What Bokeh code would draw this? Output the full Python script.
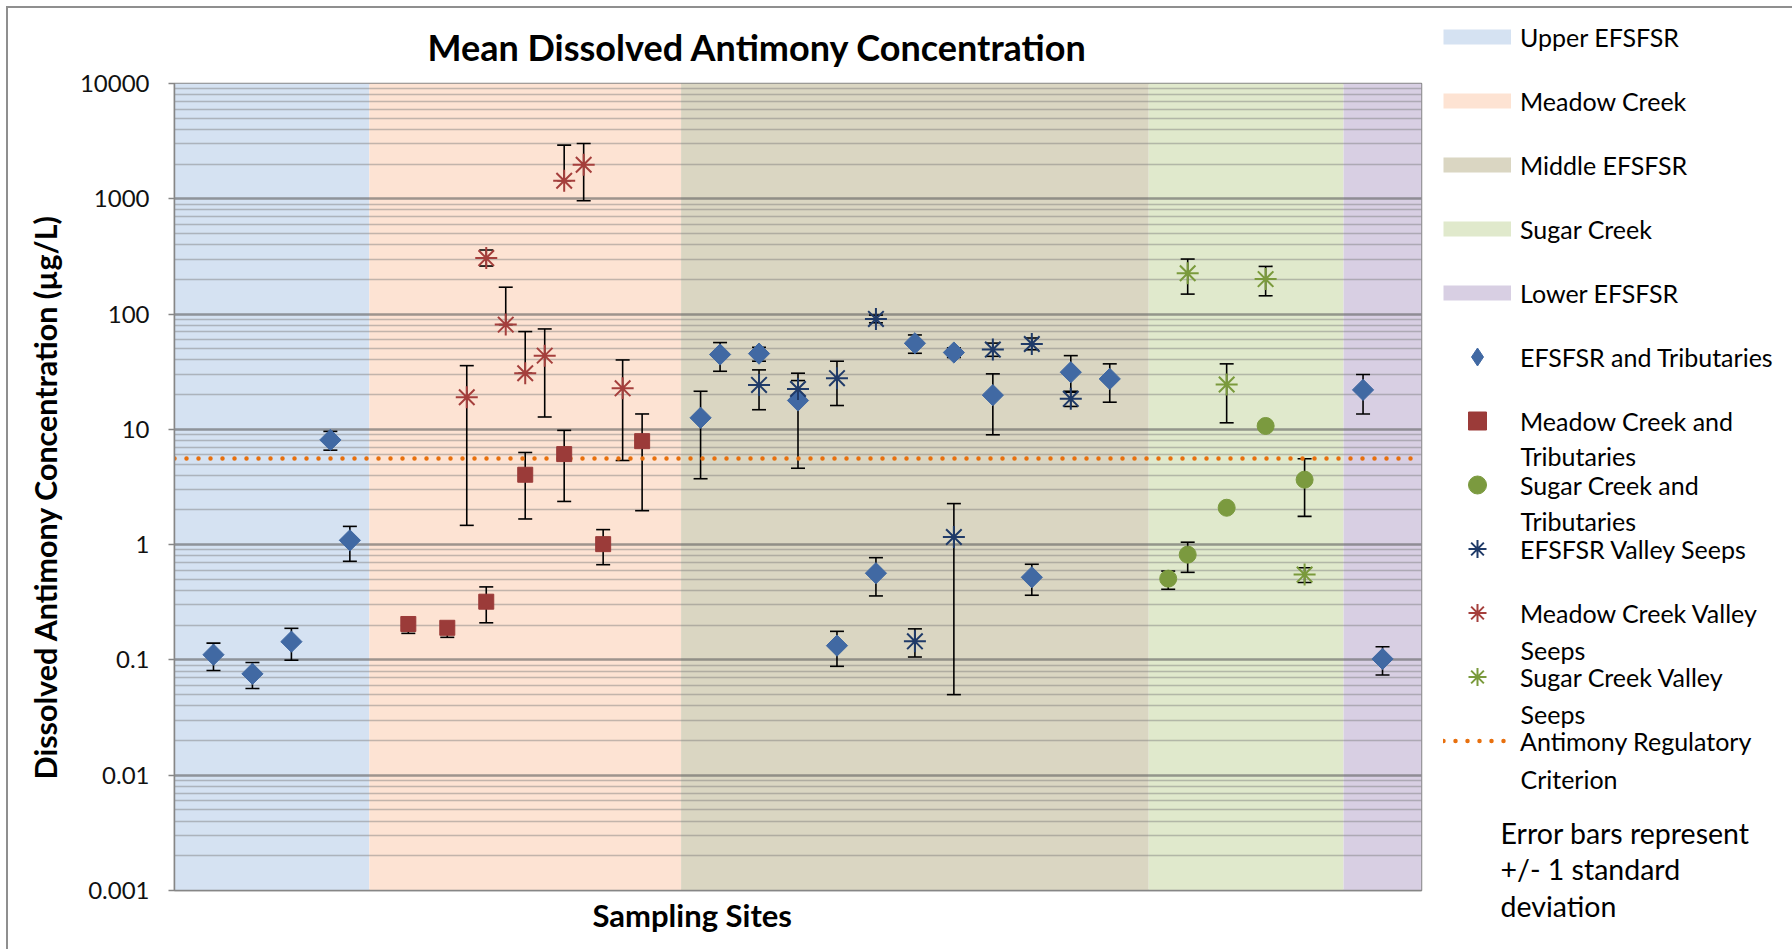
import numpy as np
from bokeh.plotting import figure
from bokeh.layouts import row
from bokeh.models import (ColumnDataSource, Whisker, TeeHead, Legend, LegendItem,
                          Label, FixedTicker, Range1d, CustomJSTickFormatter, Title)
from bokeh.embed import file_html
from bokeh.resources import INLINE

TITLE = "Mean Dissolved Antimony Concentration"
Y_LABEL = "Dissolved Antimony Concentration (µg/L)"
X_LABEL = "Sampling Sites"
N_SITES = 64

region_names = ["Upper EFSFSR", "Meadow Creek", "Middle EFSFSR", "Sugar Creek", "Lower EFSFSR"]
region_first = [0, 10, 26, 50, 60]
region_last = [10, 26, 50, 60, 64]
region_colors = ["#d5e2f2", "#fde3d3", "#dad6c2", "#e0e9cc", "#d8cfe3"]

y_ticks = [0.001, 0.01, 0.1, 1, 10, 100, 1000, 10000]

# EFSFSR and Tributaries
efs_sites = [2, 4, 6, 8, 9, 27, 28, 30, 32, 34, 36, 38, 40, 42, 44, 46, 48, 61, 62]
efs_mean = [0.111, 0.0757, 0.144, 8.1, 1.09, 12.6, 44.6, 45.4, 17.8, 0.133, 0.565, 55.8, 46.4, 19.8, 0.521, 31.3, 27.4, 22.0, 0.102]
efs_upper = [0.14, 0.095, 0.188, 9.6, 1.44, 21.4, 56.6, 51.5, 30.7, 0.177, 0.771, 65.9, 51.0, 30.3, 0.676, 43.6, 37.0, 29.9, 0.130]
efs_lower = [0.081, 0.0565, 0.0995, 6.6, 0.717, 3.73, 31.9, 39.0, 4.6, 0.088, 0.359, 45.7, 42.0, 8.97, 0.364, 21.0, 17.2, 13.6, 0.074]

# Meadow Creek and Tributaries
mc_sites = [12, 14, 16, 18, 20, 22, 24]
mc_mean = [0.205, 0.19, 0.32, 4.04, 6.1, 1.01, 7.9]
mc_upper = [0.215, 0.197, 0.43, 6.3, 9.8, 1.35, 13.6]
mc_lower = [0.17, 0.157, 0.21, 1.67, 2.37, 0.67, 1.97]

# Sugar Creek and Tributaries
sc_sites = [51, 52, 54, 56, 58]
sc_mean = [0.507, 0.819, 2.09, 10.7, 3.66]
sc_upper = [0.59, 1.05, None, None, 5.56]
sc_lower = [0.41, 0.575, None, None, 1.76]

# EFSFSR Valley Seeps
efs_seep_sites = [30, 32, 34, 36, 38, 40, 42, 44, 46]
efs_seep_mean = [24.3, 22.4, 27.8, 90.8, 0.145, 1.165, 49.2, 55.0, 18.4]
efs_seep_upper = [32.8, 26.5, 39.0, 98.0, 0.186, 2.27, 56.0, 62.0, 21.4]
efs_seep_lower = [14.8, 19.5, 16.1, 84.0, 0.106, 0.050, 43.0, 49.0, 15.8]

# Meadow Creek Valley Seeps
mc_seep_sites = [15, 16, 17, 18, 19, 20, 21, 23]
mc_seep_mean = [19.0, 306, 81, 30.7, 43.6, 1434, 1973, 22.7]
mc_seep_upper = [35.7, 360, 171, 70.5, 74.3, 2920, 3020, 40.0]
mc_seep_lower = [1.47, 261, 81, 30.7, 12.8, 1434, 962, 5.37]

# Sugar Creek Valley Seeps
sc_seep_sites = [52, 54, 56, 58]
sc_seep_mean = [226, 24.5, 201, 0.55]
sc_seep_upper = [300, 37.0, 259, 0.63]
sc_seep_lower = [149, 11.4, 144, 0.47]

criterion = 5.6

series_names = ["EFSFSR and Tributaries", "Meadow Creek and\nTributaries",
                "Sugar Creek and\nTributaries", "EFSFSR Valley Seeps",
                "Meadow Creek Valley\nSeeps", "Sugar Creek Valley\nSeeps",
                "Antimony Regulatory\nCriterion"]
note_lines = ["Error bars represent", "+/- 1 standard", "deviation"]

FONT = "Lato"
C_EFS, C_MC, C_SC = "#4169a3", "#9b3b39", "#7b9a3f"
C_ES, C_MS, C_SS = "#1f3a68", "#a53f3c", "#7a9a3c"
C_CRIT = "#e8700e"

W1, W2, H = 1423, 361, 941

p = figure(width=W1, height=H, y_axis_type="log",
           x_range=Range1d(0, N_SITES), y_range=Range1d(y_ticks[0], y_ticks[-1]),
           output_backend="svg", toolbar_location=None,
           min_border_left=166, min_border_right=10, min_border_top=75, min_border_bottom=59)
p.frame_align = False
p.outline_line_color = "#868686"
p.outline_line_width = 1.5

# region bands
band_src = ColumnDataSource(dict(left=region_first, right=region_last,
                                 bottom=[y_ticks[0]] * 5, top=[y_ticks[-1]] * 5,
                                 color=region_colors, name=region_names))
p.quad(left="left", right="right", bottom="bottom", top="top", fill_color="color",
       line_color=None, source=band_src, level="image")

# grid
minor = [m * 10.0 ** e for e in range(-3, 4) for m in range(2, 10)]
ticker = FixedTicker(ticks=y_ticks, minor_ticks=minor)
p.yaxis.ticker = ticker
p.ygrid.ticker = ticker
p.xgrid.grid_line_color = None
p.ygrid.grid_line_color = "#5f5f5f"
p.ygrid.grid_line_alpha = 0.6
p.ygrid.grid_line_width = 2.5
p.ygrid.minor_grid_line_color = "#7a7a7a"
p.ygrid.minor_grid_line_alpha = 0.45
p.ygrid.minor_grid_line_width = 1.5

p.yaxis.formatter = CustomJSTickFormatter(code="return String(tick);")
p.yaxis.major_label_text_font = FONT
p.yaxis.major_label_text_font_size = "24px"
p.yaxis.major_label_text_color = "#111111"
p.yaxis.major_tick_out = 6
p.yaxis.major_tick_in = 0
p.yaxis.minor_tick_out = 0
p.yaxis.minor_tick_in = 0
p.yaxis.major_label_standoff = 19
p.yaxis.axis_line_color = "#868686"
p.yaxis.axis_line_width = 1.5
p.yaxis.major_tick_line_color = "#868686"
p.yaxis.major_tick_line_width = 1.5

p.xaxis.ticker = FixedTicker(ticks=[])
p.xaxis.axis_line_color = "#868686"
p.xaxis.axis_line_width = 1.5
p.xaxis.major_label_text_font_size = "0px"

p.title.text = TITLE
p.title.align = "left"
p.title.offset = 253
p.title.vertical_align = "middle"
p.title.text_font = FONT
p.title.text_font_style = "bold"
p.title.text_font_size = "36px"
p.title.text_color = "black"
p.title.standoff = 28

# axis titles placed as side titles so they can sit off-centre like the original
p.add_layout(Title(text=X_LABEL, align="left", offset=418, text_font=FONT,
                   text_font_style="bold", text_font_size="31px", text_color="black",
                   standoff=6), "below")
p.add_layout(Title(text=Y_LABEL, align="left", offset=111, text_font=FONT,
                   text_font_style="bold", text_font_size="30.5px", text_color="black",
                   standoff=27), "left")

# criterion line
p.line(x=[0, N_SITES], y=[criterion, criterion], line_color=C_CRIT, line_width=4.5,
       line_dash="0 12", line_cap="round")


def add_errors(sites, upper, lower):
    xs, hi, lo = [], [], []
    for s, u, l in zip(sites, upper, lower):
        if u is None:
            continue
        xs.append(s); hi.append(u); lo.append(l)
    src = ColumnDataSource(dict(x=xs, upper=hi, lower=lo))
    w = Whisker(source=src, base="x", upper="upper", lower="lower", dimension="height",
                line_color="black", line_width=1.6, level="underlay",
                upper_head=TeeHead(size=14, line_color="black", line_width=1.6),
                lower_head=TeeHead(size=14, line_color="black", line_width=1.6))
    p.add_layout(w)


add_errors(efs_sites, efs_upper, efs_lower)
add_errors(mc_sites, mc_upper, mc_lower)
add_errors(sc_sites, sc_upper, sc_lower)
add_errors(efs_seep_sites, efs_seep_upper, efs_seep_lower)
add_errors(mc_seep_sites, mc_seep_upper, mc_seep_lower)
add_errors(sc_seep_sites, sc_seep_upper, sc_seep_lower)

# plot markers (the diamond is a square turned by 45 degrees, as in the original)
plot_styles = [
    dict(marker="square", angle=np.pi / 4, size=15, fill_color=C_EFS, line_color=C_EFS),
    dict(marker="square", size=15, fill_color=C_MC, line_color=C_MC),
    dict(marker="circle", size=17, fill_color=C_SC, line_color=C_SC),
    dict(marker="asterisk", size=22, line_color=C_ES, line_width=2),
    dict(marker="asterisk", size=22, line_color=C_MS, line_width=2),
    dict(marker="asterisk", size=22, line_color=C_SS, line_width=2),
]
series_xy = [(efs_sites, efs_mean), (mc_sites, mc_mean), (sc_sites, sc_mean),
             (efs_seep_sites, efs_seep_mean), (mc_seep_sites, mc_seep_mean),
             (sc_seep_sites, sc_seep_mean)]
for (xs, ys), st in zip(series_xy, plot_styles):
    p.scatter(xs, ys, **st)

# legend panel (separate figure, pixel coordinates, y downward)
q = figure(width=W2, height=H, x_range=Range1d(0, W2), y_range=Range1d(H, 0),
           output_backend="svg", toolbar_location=None,
           x_axis_location=None, y_axis_location=None,
           min_border_left=0, min_border_right=0, min_border_top=0, min_border_bottom=0)
q.frame_align = False
q.grid.visible = False
q.outline_line_color = None

legend_styles = [
    dict(marker="diamond", fill_color=C_EFS, line_color=C_EFS),
    dict(marker="square", fill_color=C_MC, line_color=C_MC),
    dict(marker="circle", fill_color=C_SC, line_color=C_SC),
    dict(marker="asterisk", line_color=C_ES, line_width=2),
    dict(marker="asterisk", line_color=C_MS, line_width=2),
    dict(marker="asterisk", line_color=C_SS, line_width=2),
]

NO = [np.nan]  # legend keys draw no mark in the panel
items = []
for name, c in zip(region_names, region_colors):
    r = q.line(x=NO, y=NO, line_color=c, line_width=15, line_cap="butt")
    items.append(LegendItem(label=name, renderers=[r]))
for name, st in zip(series_names, legend_styles):
    r = q.scatter(x=NO, y=NO, **st)
    items.append(LegendItem(label=name.split("\n")[0], renderers=[r]))
r = q.line(x=NO, y=NO, line_color=C_CRIT, line_width=4.5, line_dash="0 12", line_cap="round")
items.append(LegendItem(label=series_names[-1].split("\n")[0], renderers=[r]))

leg = Legend(items=items, location=(12, 186), padding=0, margin=0, border_line_color=None,
             background_fill_alpha=0, glyph_width=68, glyph_height=45, label_height=45,
             spacing=19, label_standoff=9, label_text_font=FONT, label_text_font_size="25px",
             label_text_color="black")
q.add_layout(leg)

cont_y = [447, 512, 641, 705, 770]
cont_txt = [s.split("\n")[1] for s in series_names if "\n" in s]
for txt, yv in zip(cont_txt, cont_y):
    q.add_layout(Label(x=89, y=yv, text=txt, text_font=FONT, text_font_size="25px",
                       text_baseline="middle", text_align="left", text_color="black"))
for txt, yv in zip(note_lines, [824, 860.5, 897]):
    q.add_layout(Label(x=69, y=yv, text=txt, text_font=FONT, text_font_size="28.5px",
                       text_baseline="middle", text_align="left", text_color="black"))

layout = row(p, q, styles={"margin-left": "8px", "margin-top": "8px",
                           "outline": "2px solid #8f8f8f"})

open("out.html", "w").write(file_html(layout, INLINE))
